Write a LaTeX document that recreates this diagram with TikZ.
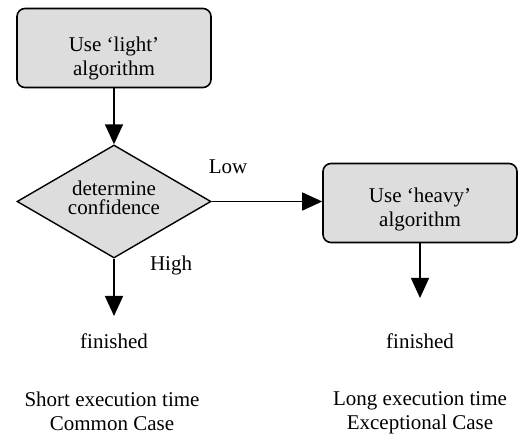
\documentclass[tikz,border=0pt]{standalone}
\usepackage{fontspec}
\setmainfont{Liberation Serif}
\usetikzlibrary{arrows.meta,shapes.geometric}
\definecolor{boxgray}{HTML}{DDDDDD}
\tikzset{
  txt/.style={font=\fontsize{21}{24}\selectfont, align=center, inner sep=0pt},
  dectxt/.style={font=\fontsize{21}{19}\selectfont, align=center, inner sep=0pt},
  procbox/.style={draw=black, line width=1.6pt, fill=boxgray, rounded corners=8pt,
                  minimum width=194pt, minimum height=79pt, inner sep=0pt},
  decbox/.style={draw=black, line width=1.4pt, fill=boxgray, diamond, aspect=1.72,
                 minimum width=194pt, minimum height=113pt, inner sep=0pt},
  flow/.style={line width=1.5pt, -{Triangle[width=18pt,length=20pt]}}
}
\begin{document}
\begin{tikzpicture}[x=1pt,y=-1pt]
\useasboundingbox (0,0) rectangle (519,435);
\node[procbox] (light) at (114,48) {};
\node[txt] (lighttxt) at (114,58) {Use ‘light’\\algorithm};
\node[decbox] (dec) at (114,201.5) {};
\node[dectxt] (dectext) at (114,198) {determine\\confidence};
\node[procbox] (heavy) at (420,203) {};
\node[txt] (heavytxt) at (420,209) {Use ‘heavy’\\algorithm};
\coordinate (endL) at (114,316);
\coordinate (endR) at (420,298);
\node[txt] (low) at (228,167) {Low};
\node[txt] (high) at (171,265) {High};
\node[txt] (finL) at (114,341) {finished};
\node[txt] (finR) at (420,341) {finished};
\node[txt] (capL) at (112,411.5) {Short execution time\\Common Case};
\node[txt] (capR) at (420,413) {Long execution time\\Exceptional Case};
\draw[flow] (light.south) -- (dec.north);
\draw[flow] (dec.east) -- (dec.east -| heavy.west);
\draw[flow] (dec.south) -- (endL);
\draw[flow] (heavy.south) -- (endR);
\end{tikzpicture}
\end{document}
